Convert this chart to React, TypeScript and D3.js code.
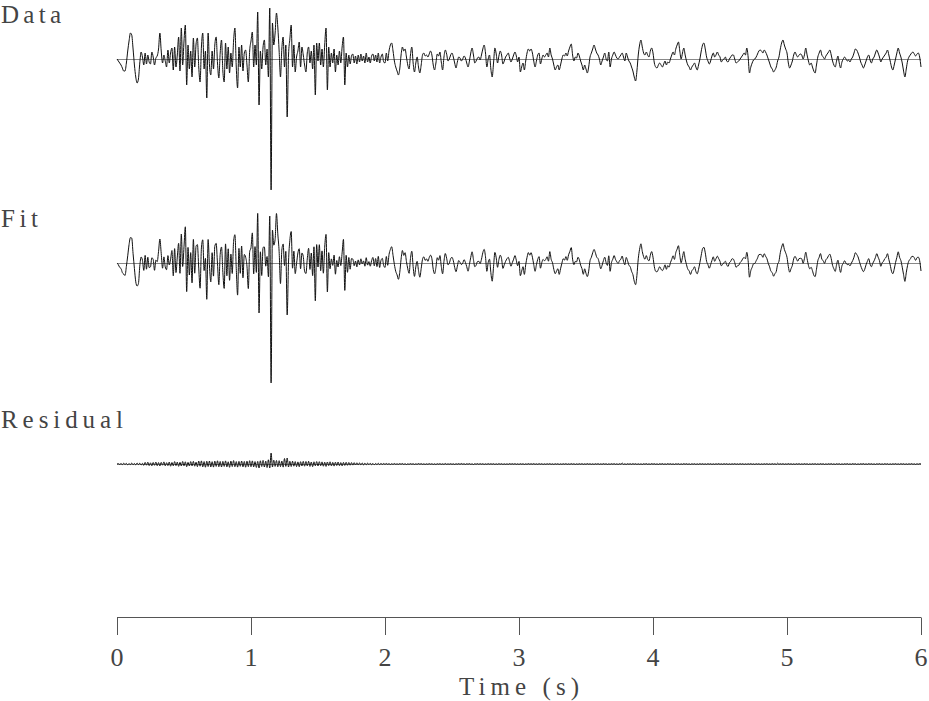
import React from "react";
import * as d3 from "d3";

// Seismic traces sampled every 0.01 s from 0 to 6 s (amplitude in arbitrary units)
const sampleInterval = 0.01;

const dataTrace: number[] = [
  0, -2, -4, -6, -9, -12, -12, -4, 8, 18,
  26, 24, 10, -6, -18, -24, -20, -4, 7, 2,
  -6, 6, -5, 4, -3, -5, 7, 2, -6, 1,
  3, 10, 26, 8, -4, 4, -2, -8, 9, -4,
  6, 11, -11, 12, -8, 4, 22, -12, 31, -6,
  18, 34, -26, 14, -10, 8, -18, 21, -8, 15,
  21, -8, -23, 12, 26, -10, 8, -39, 26, -6,
  -16, 8, -10, 14, 22, -4, -19, 6, 19, -12,
  -23, 16, -10, 12, -14, 6, -8, 18, 31, -8,
  -29, 12, -8, 14, -12, 6, 9, -6, -23, 8,
  18, 27, -8, 14, -6, 47, -46, 8, -10, 12,
  19, -6, 10, -18, 51, -131, 36, 14, 26, 46,
  32, 8, -18, 10, 22, -8, 14, -58, 4, 20,
  34, -8, 14, -13, 2, 8, 17, -8, 12, 4,
  -6, -13, 6, 12, -4, 8, -10, 14, -36, 16,
  -2, 16, -6, 10, -8, 14, 31, -31, 12, -8,
  6, -4, 10, -13, 4, -6, 8, -4, 12, 22,
  -26, 6, -8, 4, -5, 3, 5, -4, 3, -5,
  4, -3, 5, -2, 3, -4, 6, -3, 2, -4,
  3, 5, -2, 4, -3, 6, -4, 2, 5, -3,
  -4, 6, -2, 8, 14, 16, 8, -2, -8, -12,
  -16, -10, 4, 12, 8, 10, 2, -6, -10, 4,
  12, -4, -13, -4, 2, -8, -14, -6, 4, 6,
  3, 4, 2, 5, 8, 4, -6, -11, -4, 5,
  3, 7, -3, -11, 2, 9, 5, -2, 0, 4,
  6, 2, -4, -9, -3, 2, 1, -2, 0, 3,
  1, -4, -8, -2, 6, 11, 4, -4, -2, 1,
  2, -1, 4, 10, 14, 6, -8, 0, 4, -10,
  -18, -4, 11, 5, -4, 3, 8, 4, -5, -2,
  2, 4, 6, 1, -3, 0, 4, 7, 3, -3,
  2, -13, -8, -4, -11, -2, 6, 10, 8, 10,
  6, -2, -8, -2, 4, 6, -5, 0, 4, 2,
  4, 6, 2, 11, 4, 0, -6, -11, -8, -6,
  -11, -6, 0, 4, 3, 6, 3, 8, 12, 15,
  4, -2, 2, 1, 6, 3, -2, -6, -11, -6,
  -10, -14, -8, 2, 6, 10, 14, 10, 6, 4,
  0, -6, -2, 2, 6, 0, -2, 7, -8, 0,
  4, 7, 4, 1, 0, 2, 4, 6, 2, -2,
  6, 2, -2, -4, -8, -12, -18, -22, -12, 4,
  14, 19, 12, 6, 4, 7, 4, 2, 8, 11,
  6, -4, -8, -9, -6, -4, -6, -8, -5, -2,
  -6, -3, -4, 0, 4, 7, 4, 10, 14, 17,
  8, 0, 6, 11, 4, -2, -6, -8, -11, -8,
  -6, -4, -8, -11, -6, 0, 8, 14, 16, 10,
  2, -2, -5, -2, 3, 6, 2, 4, 7, 4,
  2, -3, -1, 0, 2, -2, -3, 0, 2, 4,
  4, 0, -4, -3, -2, 0, 2, 4, 6, 4,
  11, 2, -14, -8, -4, -1, 0, 2, 5, 8,
  9, 8, 6, 9, 7, 4, 0, -4, -8, -10,
  -13, -11, -8, -2, 2, 10, 16, 19, 14, 10,
  6, -4, -9, -6, -2, 4, 7, 4, 2, 4,
  5, 4, 0, 4, 11, 4, -2, -6, -4, -8,
  -12, -14, -6, 2, 6, 9, 4, 2, 0, 3,
  5, 7, 9, 4, -2, -6, -8, -2, 3, -4,
  -9, -3, 0, 2, 0, -2, -1, -3, 0, 2,
  6, 10, 9, 6, 2, -3, -6, -9, -6, -2,
  2, 4, -1, -4, 0, 2, 6, 9, 6, 2,
  -3, 0, 2, 4, 6, 9, 4, -2, -8, -11,
  -6, 0, 6, 11, 6, 2, -4, -12, -18, -10,
  -2, 2, 4, 6, 7, 5, 3, 5, 6, 2,
  -8,
];

// Residual = Fit - Data
const residualTrace: number[] = [
  0, 0.3, -0.4, 0.5, -0.6, 0.8, -0.5, 0.6, -0.8, 0.4,
  -0.6, 0.9, -0.7, 0.5, -0.8, 1.0, -0.6, 0.8, -1.0, 0.7,
  -1.4, 1.6, -1.2, 1.8, -1.6, 1.2, -1.8, 1.5, -1.3, 1.9,
  -1.7, 1.4, -2.0, 1.6, -1.2, 2.1, -1.8, 1.3, -1.6, 2.0,
  -2.2, 1.5, -1.8, 2.4, -1.6, 1.9, -2.3, 1.7, -2.0, 2.5,
  -1.8, 2.2, -2.6, 1.6, -2.0, 2.4, -1.9, 2.6, -2.2, 1.8,
  -2.6, 2.9, -2.2, 3.1, -2.8, 2.4, -3.2, 2.7, -2.5, 3.0,
  -2.9, 2.3, -3.1, 2.8, -2.4, 3.2, -2.7, 2.5, -3.0, 2.6,
  -2.4, 3.1, -2.8, 2.2, -3.3, 2.9, -2.5, 3.4, -2.7, 2.4,
  -3.1, 2.6, -2.3, 3.0, -2.8, 2.5, -3.2, 2.8, -2.6, 3.3,
  -2.7, 3.1, -2.9, 2.4, -3.4, 2.6, -4.0, 3.2, -2.5, 3.6,
  -3.0, 2.8, -3.5, 4.2, -4.0, 11.0, -3.0, 3.8, -2.4, 3.5,
  -2.8, 3.3, -2.6, 2.9, -3.1, 5.5, -2.4, 6.0, -3.0, 2.7,
  -2.5, 2.8, -2.2, 2.4, -2.6, 2.1, -2.7, 2.3, -2.0, 2.6,
  -2.2, 2.5, -1.9, 2.7, -2.4, 2.0, -2.6, 2.2, -1.8, 2.4,
  -2.0, 2.3, -1.7, 2.1, -2.2, 1.8, -2.4, 2.0, -1.6, 2.2,
  -1.9, 1.6, -2.1, 1.8, -1.5, 2.0, -1.7, 1.4, -1.9, 1.6,
  -1.4, 1.7, -1.3, 1.5, -1.2, 1.4, -1.1, 1.3, -1.0, 1.2,
  -0.9, 1.1, -0.8, 1.0, -0.9, 0.8, -0.7, 0.9, -0.6, 0.8,
  -0.7, 0.6, -0.8, 0.5, -0.6, 0.7, -0.5, 0.6, -0.4, 0.5,
  -0.4, 0.5, -0.3, 0.4, -0.5, 0.3, -0.4, 0.5, -0.3, 0.2,
  -0.3, 0.4, -0.2, 0.5, -0.4, 0.3, -0.5, 0.2, -0.3, 0.4,
  -0.2, 0.3, -0.4, 0.2, -0.3, 0.5, -0.2, 0.4, -0.3, 0.2,
  -0.4, 0.2, -0.3, 0.4, -0.2, 0.3, -0.4, 0.2, -0.5, 0.3,
  -0.2, 0.4, -0.3, 0.2, -0.4, 0.5, -0.3, 0.2, -0.2, 0.3,
  -0.3, 0.2, -0.4, 0.3, -0.2, 0.4, -0.3, 0.5, -0.2, 0.3,
  -0.4, 0.3, -0.2, 0.4, -0.3, 0.2, -0.5, 0.3, -0.2, 0.4,
  -0.3, 0.4, -0.2, 0.3, -0.4, 0.2, -0.3, 0.4, -0.2, 0.3,
  -0.2, 0.3, -0.4, 0.2, -0.3, 0.4, -0.2, 0.3, -0.4, 0.2,
  -0.3, 0.2, -0.3, 0.4, -0.2, 0.3, -0.2, 0.4, -0.3, 0.2,
  -0.4, 0.3, -0.2, 0.3, -0.4, 0.2, -0.3, 0.4, -0.2, 0.3,
  -0.2, 0.4, -0.3, 0.2, -0.3, 0.4, -0.2, 0.3, -0.4, 0.2,
  -0.3, 0.3, -0.2, 0.4, -0.3, 0.2, -0.4, 0.3, -0.2, 0.3,
  -0.4, 0.2, -0.3, 0.3, -0.2, 0.4, -0.3, 0.2, -0.3, 0.4,
  -0.2, 0.3, -0.4, 0.2, -0.3, 0.3, -0.2, 0.4, -0.3, 0.2,
  -0.3, 0.4, -0.2, 0.3, -0.3, 0.2, -0.4, 0.3, -0.2, 0.4,
  -0.3, 0.2, -0.3, 0.4, -0.2, 0.3, -0.4, 0.2, -0.3, 0.3,
  -0.2, 0.4, -0.3, 0.2, -0.4, 0.3, -0.2, 1.0, -0.3, 0.2,
  -0.4, 0.3, -0.2, 0.3, -0.3, 0.4, -0.2, 0.3, -0.4, 0.2,
  -0.3, 0.2, -0.4, 0.3, -0.2, 0.4, -0.3, 0.2, -0.3, 0.4,
  -0.2, 0.3, -0.3, 0.2, -0.4, 0.3, -0.2, 0.4, -0.3, 0.2,
  -0.3, 0.4, -0.2, 0.3, -0.3, 0.2, -0.4, 0.3, -0.2, 0.3,
  -0.4, 0.2, -0.3, 0.4, -0.2, 0.3, -0.3, 0.2, -0.4, 0.3,
  -0.2, 0.3, -0.4, 0.2, -0.3, 0.4, -0.2, 0.3, -0.3, 0.2,
  -0.3, 0.4, -0.2, 0.3, -0.4, 0.2, -0.3, 0.3, -0.2, 0.4,
  -0.3, 0.2, -0.3, 0.4, -0.2, 0.3, -0.4, 0.2, -0.3, 0.3,
  -0.2, 0.4, -0.3, 0.2, -0.3, 0.4, -0.2, 0.3, -0.4, 0.2,
  -0.3, 0.3, -0.2, 0.4, -0.3, 0.2, -0.4, 0.3, -0.2, 0.3,
  -0.4, 0.2, -0.3, 0.3, -0.2, 0.4, -0.3, 0.2, -0.3, 0.4,
  -0.2, 0.3, -0.4, 0.8, -0.3, 0.3, -0.2, 0.4, -0.3, 0.2,
  -0.3, 0.4, -0.2, 0.3, -0.3, 0.2, -0.4, 0.3, -0.2, 0.4,
  -0.3, 0.2, -0.3, 0.4, -0.2, 0.3, -0.4, 0.2, -0.3, 0.3,
  -0.2, 0.4, -0.3, 0.2, -0.3, 0.4, -0.2, 0.3, -0.4, 0.2,
  -0.3, 0.3, -0.2, 0.4, -0.3, 0.2, -0.4, 0.3, -0.2, 0.3,
  -0.4, 0.2, -0.3, 0.3, -0.2, 0.4, -0.3, 0.2, -0.3, 0.4,
  -0.2, 0.3, -0.4, 0.2, -0.3, 0.3, -0.2, 0.4, -0.3, 0.2,
  -0.3, 0.4, -0.2, 0.3, -0.3, 0.2, -0.4, 0.3, -0.2, 0.4,
  -0.3, 0.2, -0.3, 0.4, -0.2, 0.3, -0.4, 0.2, -0.3, 0.3,
  -0.2, 0.4, -0.3, 0.2, -0.3, 0.4, -0.2, 0.3, -0.4, 0.2,
  -0.3, 0.3, -0.2, 0.4, -0.3, 0.2, -0.4, 0.3, -0.2, 0.3,
  0,
];

const timeTicks = [0, 1, 2, 3, 4, 5, 6];
const panelLabels = ["Data", "Fit", "Residual"];
const axisTitle = "Time (s)";

export default function App() {
  const W = 929;
  const H = 701;
  const font = "'Liberation Serif', 'DejaVu Serif', serif";
  const labelWidths = [60, 37, 122];

  const x = d3.scaleLinear().domain([0, 6]).range([117, 921]);
  const fitTrace = dataTrace.map((d, i) => d + residualTrace[i]);
  const traces = [dataTrace, fitTrace, residualTrace];
  const baselines = [59, 263, 464];
  const axisY = 617.5;

  return (
    <svg
      width={W}
      height={H}
      viewBox={`0 0 ${W} ${H}`}
      style={{ position: "absolute", left: 0, top: 0, background: "#fff" }}
    >
      {traces.map((tr, k) => {
        const y = d3
          .scaleLinear()
          .domain([-150, 150])
          .range([baselines[k] + 150, baselines[k] - 150]);
        const line = d3
          .line<number>()
          .x((_, i) => x(i * sampleInterval))
          .y((d) => y(d))
          .curve(d3.curveMonotoneX);
        return (
          <g key={k}>
            <line
              x1={x(0)}
              x2={x(6)}
              y1={y(0) + 0.5}
              y2={y(0) + 0.5}
              stroke="#888"
              strokeWidth={1}
            />
            <path d={line(tr) || ""} fill="none" stroke="#111" strokeWidth={1} strokeLinejoin="round" />
            <text
              x={1}
              y={baselines[k] - 36}
              fontFamily={font}
              fontSize={25}
              fill="#444"
              textLength={labelWidths[k]}
              lengthAdjust="spacing"
            >
              {panelLabels[k]}
            </text>
          </g>
        );
      })}
      <g>
        <line x1={x(0)} x2={x(6)} y1={axisY} y2={axisY} stroke="#555" strokeWidth={1} />
        {timeTicks.map((t) => (
          <g key={t}>
            <line
              x1={Math.round(x(t)) + 0.5}
              x2={Math.round(x(t)) + 0.5}
              y1={axisY}
              y2={635}
              stroke="#555"
              strokeWidth={1}
            />
            <text
              x={x(t)}
              y={666}
              textAnchor="middle"
              fontFamily={font}
              fontSize={26}
              fill="#444"
            >
              {t}
            </text>
          </g>
        ))}
        <text
          x={x(3) - 60}
          y={695}
          fontFamily={font}
          fontSize={25}
          fill="#444"
          textLength={120}
          lengthAdjust="spacing"
        >
          {axisTitle}
        </text>
      </g>
    </svg>
  );
}
